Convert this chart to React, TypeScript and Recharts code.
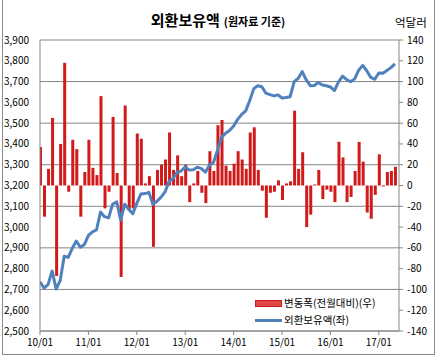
import { ComposedChart, Bar, Line, XAxis, YAxis, CartesianGrid, Legend } from "recharts"

// monthly, 2010/01 .. 2017/05
const yearLabels = ["10/01", "11/01", "12/01", "13/01", "14/01", "15/01", "16/01", "17/01"]

// 외환보유액 (억달러, left axis)
const reserves = [
  2737, 2707, 2723, 2789, 2702, 2742, 2860, 2854, 2898, 2933, 2903, 2916,
  2960, 2977, 2986, 3072, 3050, 3044, 3110, 3122, 3034, 3110, 3086, 3064,
  3114, 3159, 3161, 3167, 3109, 3124, 3144, 3169, 3220, 3235, 3264, 3270,
  3290, 3274, 3276, 3288, 3281, 3264, 3297, 3311, 3369, 3432, 3451, 3465,
  3486, 3518, 3542, 3559, 3609, 3666, 3680, 3675, 3644, 3637, 3631, 3636,
  3621, 3623, 3627, 3699, 3715, 3748, 3708, 3680, 3681, 3696, 3683, 3680,
  3674, 3657, 3699, 3726, 3710, 3699, 3713, 3755, 3778, 3752, 3720, 3711,
  3741, 3740, 3753, 3767, 3785,
]

// 변동폭 전월대비 (억달러, right axis)
const changes = [
  37, -30, 16, 65, -87, 40, 118, -6, 44, 35, -30, 13,
  44, 17, 10, 86, -22, -6, 66, 12, -88, 77, -24, -22,
  50, 45, 2, 9, -59, 15, 20, 25, 51, 15, 29, 9,
  20, -16, 2, 14, -7, -17, 33, 14, 58, 63, 19, 14,
  21, 33, 25, 16, 51, 56, 15, -5, -31, -7, -6, 5,
  -14, 2, 4, 72, 16, 32, -40, -28, 1, 15, -13, -4,
  -6, -16, 42, 27, -16, -11, 14, 42, 23, -26, -32, -9,
  30, -1, 13, 14, 18,
]

const leftTicks = [2500, 2600, 2700, 2800, 2900, 3000, 3100, 3200, 3300, 3400, 3500, 3600, 3700, 3800, 3900]
const rightTicks = [-140, -120, -100, -80, -60, -40, -20, 0, 20, 40, 60, 80, 100, 120, 140]

const rows = reserves.map((r, i) => ({ idx: i, reserves: r, change: changes[i] }))

const FONT = '"Noto Sans CJK KR", "Noto Sans", sans-serif'
const GRID = "#868686"
const RED = "#d11a1a"
const BLUE = "#4f81bd"

const tickStyle = { fontSize: 10, fill: "#000", fontFamily: FONT }

const renderLegend = () => (
  <div style={{ fontFamily: FONT, fontSize: 10.5, color: "#000", lineHeight: 1 }}>
    <div style={{ display: "flex", alignItems: "center", height: 17 }}>
      <span
        style={{
          display: "inline-block",
          width: 25,
          height: 5,
          background: "#e04848",
          border: `1px solid ${RED}`,
          marginRight: 2,
        }}
      />
      <span>변동폭(전월대비)(우)</span>
    </div>
    <div style={{ display: "flex", alignItems: "center", height: 17 }}>
      <span style={{ display: "inline-block", width: 27, height: 3, background: BLUE, marginRight: 2 }} />
      <span>외환보유액(좌)</span>
    </div>
  </div>
)

export default function App() {
  return (
    <div style={{ position: "absolute", left: 0, top: 0, width: 436, height: 358, background: "#fff" }}>
      <div
        style={{
          position: "absolute",
          left: 2,
          top: 0,
          width: 431,
          height: 354,
          borderLeft: "1px solid #8a8a8a",
          borderRight: "1px solid #8a8a8a",
          borderBottom: "1px solid #8a8a8a",
        }}
      />
      <div
        style={{
          position: "absolute",
          left: 0,
          top: 7,
          width: 436,
          textAlign: "center",
          fontFamily: FONT,
          color: "#000",
          whiteSpace: "nowrap",
        }}
      >
        <span style={{ fontSize: 15, fontWeight: "bold" }}>외환보유액</span>
        <span style={{ fontSize: 11, fontWeight: "bold", marginLeft: 4 }}>(원자료 기준)</span>
      </div>
      <div
        style={{
          position: "absolute",
          left: 395,
          top: 14,
          fontFamily: FONT,
          fontSize: 11.5,
          color: "#000",
          whiteSpace: "nowrap",
        }}
      >
        억달러
      </div>
      <ComposedChart
        width={436}
        height={358}
        data={rows}
        margin={{ top: 40, right: 0, bottom: 0, left: 0 }}
        style={{ position: "absolute", left: 0, top: 0 }}
      >
        <CartesianGrid yAxisId="left" vertical={false} stroke={GRID} strokeWidth={1} />
        <XAxis
          dataKey="idx"
          type="number"
          domain={[0, 89]}
          ticks={yearLabels.map((_, i) => i * 12)}
          tickFormatter={(v: number) => yearLabels[Math.round(v / 12)]}
          height={27}
          tick={tickStyle}
          tickSize={4}
          tickMargin={4}
          stroke={GRID}
          allowDataOverflow
        />
        <YAxis
          yAxisId="left"
          domain={[2500, 3900]}
          ticks={leftTicks}
          tickFormatter={(v: number) => v.toLocaleString("en-US")}
          width={40}
          tick={tickStyle}
          tickSize={0}
          tickMargin={11}
          stroke={GRID}
          allowDataOverflow
        />
        <YAxis
          yAxisId="right"
          orientation="right"
          domain={[-140, 140]}
          ticks={rightTicks}
          width={37}
          tick={{ ...tickStyle, textAnchor: "start" }}
          tickSize={4}
          tickMargin={4}
          stroke={GRID}
          allowDataOverflow
        />
        <Bar yAxisId="right" dataKey="change" fill={RED} barSize={3} isAnimationActive={false} />
        <Line
          yAxisId="left"
          dataKey="reserves"
          type="linear"
          stroke={BLUE}
          strokeWidth={3}
          strokeLinejoin="round"
          dot={false}
          isAnimationActive={false}
        />
        <Legend
          layout="vertical"
          align="center"
          verticalAlign="middle"
          content={renderLegend}
          wrapperStyle={{ left: 255, top: 295, width: 140, height: 34 }}
        />
      </ComposedChart>
    </div>
  )
}
